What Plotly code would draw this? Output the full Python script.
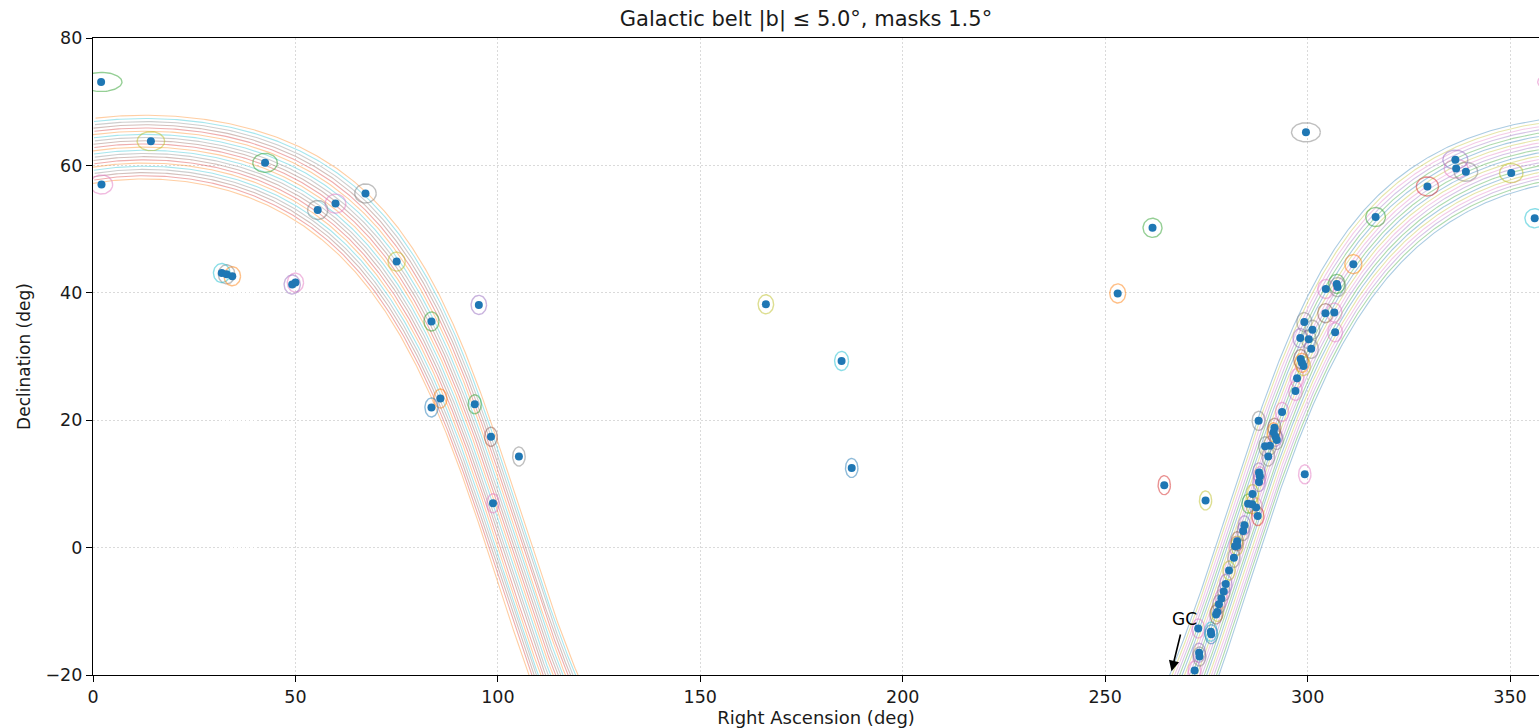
import numpy as np
import plotly.graph_objects as go

# ---------------- data ----------------
TITLE = "Galactic belt |b| \u2264 5.0\u00b0, masks 1.5\u00b0"
B_MAX = 5.0
B_STEP = 0.5
MASK_RADIUS = 1.5

ra_src = [2.0, 2.1, 14.3, 42.5, 55.5, 59.9, 67.3, 75.0, 31.8, 33.0, 34.4, 49.2, 50.0,
          95.3, 83.6, 85.8, 83.6, 94.3, 98.3, 105.2, 98.8,
          166.2, 184.9, 187.4, 253.1, 261.7, 264.6, 274.8, 299.6, 299.3,
          336.5, 336.7, 339.1, 350.3, 356.1, 329.6, 316.8, 311.3, 304.5, 307.2, 307.4,
          304.4, 306.6, 306.8, 299.2, 301.2, 298.2, 300.3, 300.9, 298.3, 298.6, 299.0,
          297.4, 297.0, 293.7, 287.9, 291.8, 291.6, 292.1, 292.4, 290.7, 289.5, 290.3,
          288.0, 288.2, 288.0, 286.4, 285.3, 286.3, 287.3, 287.7, 284.4, 284.1, 282.6,
          282.1, 282.6, 281.8, 280.6, 279.8, 279.3, 278.7, 278.1, 277.7, 277.4, 276.1,
          276.2, 273.0, 273.2, 273.3, 272.1]
dec_src = [73.1, 57.0, 63.8, 60.4, 53.0, 54.0, 55.6, 44.9, 43.1, 42.9, 42.6, 41.3, 41.6,
           38.1, 35.5, 23.4, 22.0, 22.5, 17.4, 14.3, 6.95,
           38.2, 29.3, 12.5, 39.9, 50.2, 9.8, 7.4, 65.2, 11.5,
           60.9, 59.5, 59.0, 58.8, 51.7, 56.7, 51.9, 44.5, 40.6, 41.4, 40.9,
           36.8, 36.9, 33.8, 35.4, 34.2, 32.9, 32.7, 31.2, 29.6, 29.0, 28.5,
           26.6, 24.6, 21.3, 19.9, 18.8, 18.1, 17.4, 16.9, 16.0, 15.9, 14.3,
           11.8, 11.2, 10.3, 8.4, 6.9, 6.8, 6.3, 4.95, 3.5, 2.6, 1.0,
           0.2, 0.3, -1.6, -3.6, -5.7, -6.9, -8.0, -8.9, -10.1, -10.5, -13.2,
           -13.6, -12.7, -16.5, -17.1, -19.3]

GC_RA, GC_DEC = 266.4, -19.4   # arrow tip (clipped at bottom of panel)

# ---------------- styles ----------------
TAB = {'blue': (31, 119, 180), 'orange': (255, 127, 14), 'green': (44, 160, 44),
       'red': (214, 39, 40), 'purple': (148, 103, 189), 'brown': (140, 86, 75),
       'pink': (227, 119, 194), 'grey': (127, 127, 127), 'olive': (188, 189, 34),
       'cyan': (23, 190, 207)}
CYCLE = ['blue', 'orange', 'green', 'red', 'purple', 'brown', 'pink', 'grey', 'olive', 'cyan']

mask_color = ['green', 'pink', 'olive', 'green', 'grey', 'pink', 'grey', 'olive', 'cyan', 'grey',
              'orange', 'purple', 'pink', 'purple', 'green', 'orange', 'blue', 'green', 'brown',
              'grey', 'pink', 'olive', 'cyan', 'blue', 'orange', 'green', 'red', 'olive', 'grey',
              'pink', 'purple', 'pink', 'grey', 'olive', 'cyan', 'red', 'green', 'orange', 'pink',
              'green', 'grey', 'brown', 'pink', 'pink', 'grey', 'grey', 'purple', 'grey', 'grey',
              'brown', 'orange', 'olive', 'pink', 'pink', 'pink', 'grey', 'brown', 'orange',
              'purple', 'grey', 'grey', 'grey', 'grey', 'purple', 'pink', 'purple', 'olive',
              'green', 'olive', 'pink', 'red', 'purple', 'grey', 'brown', 'pink', 'olive', 'grey',
              'olive', 'purple', 'grey', 'pink', 'grey', 'olive', 'brown', 'cyan', 'blue', 'pink',
              'purple', 'grey', 'pink']
WRAP_COLOR = 'pink'


def rgba(name, a):
    r, g, b = TAB[name]
    return f"rgba({r},{g},{b},{a})"


# galactic -> equatorial (J2000)
T = np.array([[-0.0548755604, -0.8734370902, -0.4838350155],
              [0.4941094279, -0.4448296300, 0.7469822445],
              [-0.8676661490, -0.1980763734, 0.4559837762]])


def gal_to_eq(l_deg, b_deg):
    l = np.radians(l_deg)
    b = np.radians(b_deg)
    v = np.vstack([np.cos(b) * np.cos(l), np.cos(b) * np.sin(l), np.sin(b) * np.ones_like(l)])
    e = T.T @ v
    ra = np.degrees(np.arctan2(e[1], e[0])) % 360.0
    dec = np.degrees(np.arcsin(np.clip(e[2], -1, 1)))
    return ra, dec


fig = go.Figure()

# galactic belt lines
b_values = np.arange(-B_MAX, B_MAX + 1e-9, B_STEP)
l_grid = np.arange(0.0, 360.0001, 0.25)
for i, bv in enumerate(b_values):
    ra, dec = gal_to_eq(l_grid, bv)
    jumps = np.where(np.diff(ra) < -180)[0]
    cut = jumps[0] + 1 if len(jumps) else len(ra)
    segs = [(ra[:cut], dec[:cut]), (ra[cut:], dec[cut:])]
    for k, (sx, sy) in enumerate(segs):
        if len(sx) < 2:
            continue
        cname = CYCLE[(2 * i + k) % 10]
        fig.add_trace(go.Scatter(x=sx, y=sy, mode='lines',
                                 line=dict(color=rgba(cname, 0.38), width=1.1),
                                 hoverinfo='skip', showlegend=False))

# mask ellipses
t = np.linspace(0, 2 * np.pi, 73)
groups = {}
for ra0, de0, c in zip(ra_src, dec_src, mask_color):
    hw = MASK_RADIUS / np.cos(np.radians(de0))
    ex = ra0 + hw * np.cos(t)
    ey = de0 + MASK_RADIUS * np.sin(t)
    groups.setdefault(c, ([], []))
    groups[c][0].extend(list(ex) + [None])
    groups[c][1].extend(list(ey) + [None])
    if ra0 - hw < 0:
        groups.setdefault(WRAP_COLOR, ([], []))
        groups[WRAP_COLOR][0].extend(list(ex + 360) + [None])
        groups[WRAP_COLOR][1].extend(list(ey) + [None])
for c, (gx, gy) in groups.items():
    fig.add_trace(go.Scatter(x=gx, y=gy, mode='lines',
                             line=dict(color=rgba(c, 0.5), width=1.4),
                             hoverinfo='skip', showlegend=False))

# sources
fig.add_trace(go.Scatter(x=ra_src, y=dec_src, mode='markers',
                         marker=dict(color='#1f77b4', size=8, line=dict(width=0)),
                         showlegend=False))

# GC annotation
fig.add_annotation(x=GC_RA, y=GC_DEC, ax=268.7, ay=-13.4, axref='x', ayref='y',
                   xref='x', yref='y', text='', showarrow=True, arrowhead=2,
                   arrowsize=1.3, arrowwidth=1.6, arrowcolor='black')
fig.add_annotation(x=269.5, y=-11.2, xref='x', yref='y', text='GC', showarrow=False,
                   font=dict(size=17, color='black'))

font_family = "DejaVu Sans"
TXT = '#1a1a1a'
W, H = 1539, 728
ML, MT, MB = 93, 38, 53
x_px_per_deg = 4.0486
x_max = (W - ML) / x_px_per_deg

fig.update_layout(
    width=W, height=H,
    margin=dict(l=ML, r=0, t=MT, b=MB),
    paper_bgcolor='white', plot_bgcolor='white',
    font=dict(family=font_family, color=TXT, size=17),
    title=dict(text=TITLE, x=806 / W, xanchor='center', y=1 - 19 / H,
               yanchor='middle', font=dict(size=21, family=font_family, color=TXT)),
    showlegend=False,
)
GRID_DASH = "1.5px,2.5px"
fig.update_xaxes(range=[0, x_max], tickvals=list(range(0, 360, 50)),
                 showgrid=True, gridcolor='#dadada', griddash=GRID_DASH, gridwidth=1,
                 zeroline=False, showline=True, linecolor='black', linewidth=1.3, mirror=True,
                 ticks='outside', ticklen=6, tickwidth=1.2, tickcolor='black',
                 tickfont=dict(size=17.5, family=font_family, color=TXT),
                 title=dict(text='Right Ascension (deg)', standoff=1,
                            font=dict(size=18, family=font_family, color=TXT)))
fig.update_yaxes(range=[-20, 80], tickvals=list(range(-20, 81, 20)),
                 showgrid=True, gridcolor='#dadada', griddash=GRID_DASH, gridwidth=1,
                 zeroline=False, showline=True, linecolor='black', linewidth=1.3, mirror=False,
                 ticks='outside', ticklen=6, tickwidth=1.2, tickcolor='black',
                 tickfont=dict(size=17.5, family=font_family, color=TXT),
                 title=dict(text='Declination (deg)', standoff=10,
                            font=dict(size=17, family=font_family, color=TXT)))

fig.write_html("out.html", config={'displayModeBar': False},
               post_script="document.body.style.margin='0';"
                           "document.body.style.overflow='hidden';")
